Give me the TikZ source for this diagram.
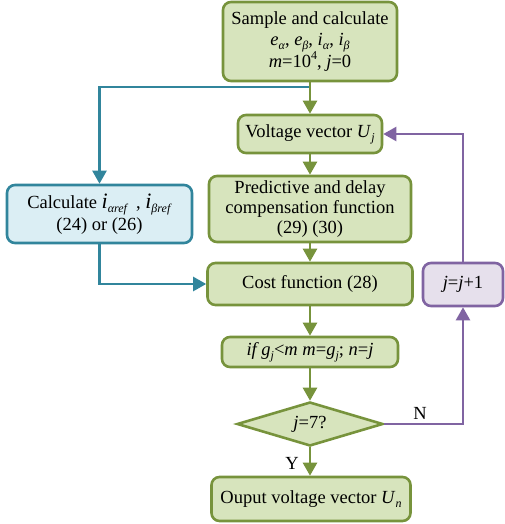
\documentclass[tikz,border=0pt]{standalone}
\usepackage{fontspec}
\setmainfont{Liberation Serif}
\usetikzlibrary{arrows.meta,shapes.geometric}
\definecolor{gfill}{HTML}{D7E4BD}
\definecolor{gline}{HTML}{77933C}
\definecolor{bfill}{HTML}{DBEEF4}
\definecolor{bline}{HTML}{31859C}
\definecolor{pfill}{HTML}{E6E0EC}
\definecolor{pline}{HTML}{8064A2}
\newcommand{\sbs}[1]{\raisebox{-0.22em}{\fontsize{12}{12}\selectfont #1}}
\newcommand{\sps}[1]{\raisebox{0.45em}{\fontsize{12}{12}\selectfont #1}}
\begin{document}
\begin{tikzpicture}[x=1pt,y=-1pt,
  font=\fontsize{18.5}{22}\selectfont,
  gbox/.style={draw=gline,fill=gfill,line width=2.6pt,rounded corners=8pt,align=center,inner sep=0pt},
  bbox/.style={draw=bline,fill=bfill,line width=2.6pt,rounded corners=8pt,align=center,inner sep=0pt},
  pbox/.style={draw=pline,fill=pfill,line width=2.6pt,rounded corners=8pt,align=center,inner sep=0pt},
  garr/.style={draw=gline,line width=2.6pt,-{Triangle[length=13pt,width=14pt]}},
  barr/.style={draw=bline,line width=2.4pt,-{Triangle[length=13pt,width=14pt]}},
  parr/.style={draw=pline,line width=2.4pt,-{Triangle[length=13pt,width=14pt]}},
  lbl/.style={inner sep=0pt}
]
\useasboundingbox (0,0) rectangle (504,524);
\node[gbox,minimum width=174pt,minimum height=79pt] (top) at (310,41.5)
  {Sample and calculate\\[-1pt]
   \textit{e}\sbs{\textit{α}}, \textit{e}\sbs{\textit{β}}, \textit{i}\sbs{\textit{α}}, \textit{i}\sbs{\textit{β}}\\[-1pt]
   \textit{m}=10\sps{4}, \textit{j}=0};
\node[gbox,minimum width=144pt,minimum height=38pt] (volt) at (310,134) {Voltage vector \textit{U}\sbs{\textit{j}}};
\node[gbox,minimum width=202pt,minimum height=66pt,font=\fontsize{18.5}{20}\selectfont] (pred) at (310,209) {Predictive and delay\\compensation function\\(29) (30)};
\node[gbox,minimum width=205pt,minimum height=42pt] (cost) at (310,284) {Cost function (28)};
\node[gbox,minimum width=176pt,minimum height=30pt] (if) at (310,352) {\textit{if g}\sbs{\textit{j}}<\textit{m m}=\textit{g}\sbs{\textit{j}}; \textit{n}=\textit{j}};
\node[diamond,aspect=3.3,draw=gline,fill=gfill,line width=2.6pt,minimum width=146pt,minimum height=44pt,inner sep=0pt] (dia) at (310,424) {\textit{j}=7?};
\node[gbox,minimum width=199pt,minimum height=44pt] (out) at (311,499) {Ouput voltage vector \textit{U}\sbs{\textit{n}}};
\node[bbox,minimum width=185pt,minimum height=58pt] (calc) at (99.5,214)
  {Calculate {\fontsize{22}{22}\selectfont\textit{i}}\sbs{\textit{αref}}\, , {\fontsize{22}{22}\selectfont\textit{i}}\sbs{\textit{βref}}\\(24) or (26)};
\node[pbox,minimum width=80pt,minimum height=43pt] (jj) at (463,284.5) {\textit{j}=\textit{j}+1};
\coordinate (br) at (310,87);
\node[lbl] (nl) at (420,413) {N};
\node[lbl] (yl) at (292,463) {Y};
% connectors
\draw[barr] (br) -| (calc.north);
\draw[barr] (calc.south) |- (cost.west);
\draw[garr] (top.south) -- (volt.north);
\draw[garr] (volt.south) -- (pred.north);
\draw[garr] (pred.south) -- (cost.north);
\draw[garr] (cost.south) -- (if.north);
\draw[garr] (if.south) -- (dia.north);
\draw[garr] (dia.south) -- (dia.south |- out.north);
\draw[parr] (dia.east) -| (jj.south);
\draw[parr] (jj.north) |- (volt.east);
\end{tikzpicture}
\end{document}
